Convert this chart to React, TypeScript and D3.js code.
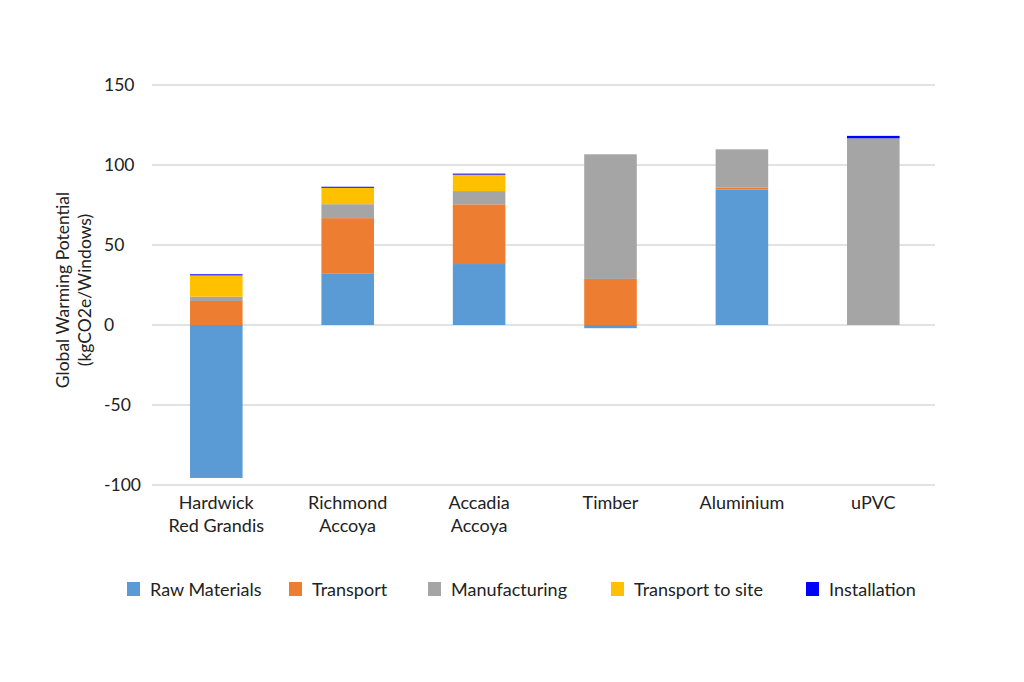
import React from "react";
import * as d3 from "d3";

const categories = ["Hardwick\nRed Grandis", "Richmond\nAccoya", "Accadia\nAccoya", "Timber", "Aluminium", "uPVC"];
const seriesNames = ["Raw Materials", "Transport", "Manufacturing", "Transport to site", "Installation"];
const rawMaterials = [-95.6, 32, 38.1, -2, 84.8, 0];
const transport = [15, 34.8, 37.3, 28.8, 1.2, 0];
const manufacturing = [2.7, 8.7, 8.3, 77.9, 23.8, 116.7];
const transportToSite = [13.5, 10.4, 10.4, 0, 0, 0];
const installation = [0.5, 0.5, 0.5, 0, 0, 1.5];
const yTicks = [-100, -50, 0, 50, 100, 150];
const colors = ["#5b9bd5", "#ed7d31", "#a5a5a5", "#ffc000", "#0000ff"];

export default function App() {
  const W = 1024, H = 682;
  const left = 152, right = 935, top = 85, bottom = 485;
  const x = d3.scaleBand().domain(categories).range([150.6, 939]).paddingInner(0.6).paddingOuter(0.3);
  const y = d3.scaleLinear().domain([-100, 150]).range([bottom, top]);
  const rows = categories.map((c, i) => ({
    cat: c,
    "Raw Materials": rawMaterials[i],
    "Transport": transport[i],
    "Manufacturing": manufacturing[i],
    "Transport to site": transportToSite[i],
    "Installation": installation[i],
  }));
  const stacked = d3.stack<any>().keys(seriesNames).offset(d3.stackOffsetDiverging)(rows);
  const font = "Lato, 'Open Sans', sans-serif";
  const legendX = [127, 289, 428, 611, 806];
  return (
    <svg width={W} height={H} style={{ display: "block", position: "absolute", left: 0, top: 0 }} fontFamily={font}>
      <rect width={W} height={H} fill="#fff" />
      {yTicks.map((t) => (
        <g key={t}>
          <line x1={left} x2={right} y1={y(t)} y2={y(t)} stroke="#d9d9d9" strokeWidth={1.3} />
          <text x={104} y={y(t)} dy="0.35em" fontSize={17.5} fill="#222">{t}</text>
        </g>
      ))}
      {stacked.map((s, si) => (
        <g key={s.key} fill={colors[si]}>
          {s.map((d, i) => {
            const y0 = y(Math.max(d[0], d[1]));
            const y1 = y(Math.min(d[0], d[1]));
            const h = y1 - y0;
            if (h <= 0) return null;
            return <rect key={i} x={x(categories[i])} width={x.bandwidth()} y={y0} height={Math.max(h, 1)} />;
          })}
        </g>
      ))}
      {categories.map((c) => (
        <text key={c} x={x(c)! + x.bandwidth() / 2} y={509} textAnchor="middle" fontSize={18} fill="#222">
          {c.split("\n").map((l, li) => (
            <tspan key={li} x={x(c)! + x.bandwidth() / 2} dy={li === 0 ? 0 : 23}>{l}</tspan>
          ))}
        </text>
      ))}
      <text transform="translate(69,290) rotate(-90)" textAnchor="middle" fontSize={17.5} fill="#222">
        <tspan x={0} dy={0}>Global Warming Potential</tspan>
        <tspan x={0} dy={22}>(kgCO2e/Windows)</tspan>
      </text>
      {seriesNames.map((n, i) => (
        <g key={n}>
          <rect x={legendX[i]} y={582} width={13} height={14} fill={colors[i]} />
          <text x={legendX[i] + 23} y={590} dy="0.35em" fontSize={18} fill="#222">{n}</text>
        </g>
      ))}
    </svg>
  );
}
